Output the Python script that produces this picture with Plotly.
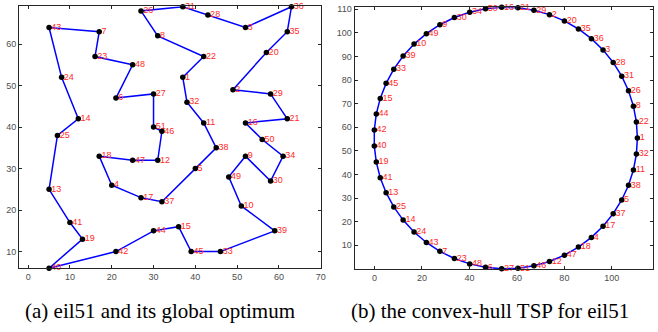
import plotly.graph_objects as go
import numpy as np

# eil51 city coordinates (TSPLIB), city id -> (x, y)
city_ids = list(range(1, 52))
city_x = [37, 49, 52, 20, 40, 21, 17, 31, 52, 51, 42, 31, 5, 12, 36, 52, 27, 17, 13, 57,
          62, 42, 16, 8, 7, 27, 30, 43, 58, 58, 37, 38, 46, 61, 62, 63, 32, 45, 59, 5,
          10, 21, 5, 30, 39, 32, 25, 25, 48, 56, 30]
city_y = [52, 49, 64, 26, 30, 47, 63, 62, 33, 21, 41, 32, 25, 42, 16, 41, 23, 33, 13, 58,
          42, 57, 57, 52, 38, 68, 48, 67, 48, 27, 69, 46, 10, 33, 63, 69, 22, 35, 15, 6,
          17, 10, 64, 15, 10, 39, 32, 55, 28, 37, 40]

# optimal tour (length 426)
tour = [1, 22, 8, 26, 31, 28, 3, 36, 35, 20, 2, 29, 21, 16, 50, 34, 30, 9, 49, 10,
        39, 33, 45, 15, 44, 42, 40, 19, 41, 13, 25, 14, 24, 43, 7, 23, 48, 6, 27, 51,
        46, 12, 47, 18, 4, 17, 37, 5, 38, 11, 32]

# axis ticks
ticks_a_x = [0, 10, 20, 30, 40, 50, 60, 70]
ticks_a_y = [10, 20, 30, 40, 50, 60]
ticks_b_x = [0, 20, 40, 60, 80, 100]
ticks_b_y = [10, 20, 30, 40, 50, 60, 70, 80, 90, 100, 110]

captions = ["(a) eil51 and its global optimum", "(b) the convex-hull TSP for eil51"]

# convex-hull instance: the tour's cities placed evenly on a circle, in tour order
hull_center = (55.3, 55.45)
hull_radius = 55.45

W, H = 658, 332
TICK_FONT = dict(family="Liberation Sans", size=9, color="#4d4d4d")
LABEL_FONT = dict(family="Liberation Sans", size=9, color="#ff2a2a")
AX_COLOR = "#262626"

# panel (a): optimal tour over the real coordinates
pos = {c: (x, y) for c, x, y in zip(city_ids, city_x, city_y)}
closed = tour + [tour[0]]
ax_x = [pos[c][0] for c in closed]
ax_y = [pos[c][1] for c in closed]

# panel (b): same tour on the circle
n = len(tour)
ang = 2 * np.pi * np.arange(n) / n
bx = list(hull_center[0] + hull_radius * np.cos(ang))
by = list(hull_center[1] + hull_radius * np.sin(ang))
bx_c = bx + [bx[0]]
by_c = by + [by[0]]

fig = go.Figure()


def add_panel(xs, ys, labels, xa, ya):
    k = len(labels)
    # tour edges
    fig.add_trace(go.Scatter(
        x=xs, y=ys, mode="lines", xaxis=xa, yaxis=ya,
        line=dict(color="#0000ff", width=1.5), hoverinfo="skip", cliponaxis=False))
    # city numbers, just right of each city
    fig.add_trace(go.Scatter(
        x=xs[:k], y=ys[:k], mode="markers+text", xaxis=xa, yaxis=ya,
        marker=dict(color="rgba(0,0,0,0)", size=2), text=[str(v) for v in labels],
        textposition="middle right", textfont=LABEL_FONT, cliponaxis=False,
        hoverinfo="skip"))
    # cities
    fig.add_trace(go.Scatter(
        x=xs[:k], y=ys[:k], mode="markers", xaxis=xa, yaxis=ya,
        marker=dict(color="black", size=5.5), cliponaxis=False))


add_panel(ax_x, ax_y, tour, "x", "y")
add_panel(bx_c, by_c, tour, "x2", "y2")


def axis(rng, dom, tickvals, anchor):
    return dict(range=rng, domain=dom, tickvals=tickvals, anchor=anchor,
                showgrid=False, zeroline=False, showline=True, linecolor=AX_COLOR,
                linewidth=1, mirror="ticks", ticks="inside", ticklen=3,
                tickcolor=AX_COLOR, tickfont=TICK_FONT)


def px_x(p):
    return p / W


def px_y(p):
    return (H - p) / H


fig.update_layout(
    width=W, height=H, margin=dict(l=0, r=0, t=0, b=0),
    paper_bgcolor="white", plot_bgcolor="white", showlegend=False,
    xaxis=axis([-2.15, 70.15], [px_x(19.3), px_x(323.3)], ticks_a_x, "y"),
    yaxis=axis([5.98, 69.12], [px_y(267.7), px_y(3.3)], ticks_a_y, "x"),
    xaxis2=axis([-8.37, 117.2], [px_x(356.7), px_x(656.7)], ticks_b_x, "y2"),
    yaxis2=axis([0.0, 110.92], [px_y(268.3), px_y(4.2)], ticks_b_y, "x2"),
)

for cx, txt in zip([161, 493], captions):
    fig.add_annotation(x=px_x(cx), y=px_y(311), xref="paper", yref="paper",
                       text=txt, showarrow=False, xanchor="center", yanchor="middle",
                       font=dict(family="Liberation Serif", size=21, color="black"))

fig.write_html("out.html")
